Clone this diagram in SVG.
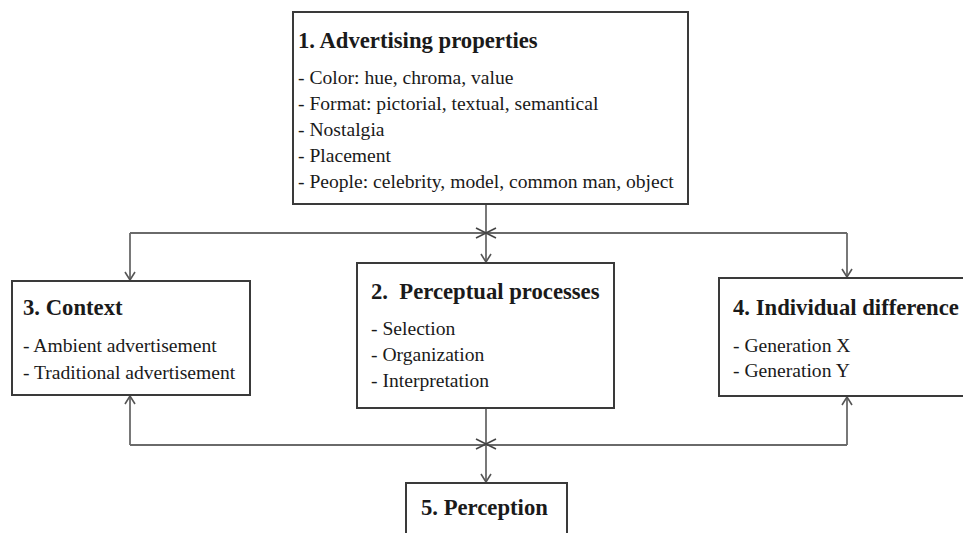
<svg xmlns="http://www.w3.org/2000/svg" width="963" height="533" viewBox="0 0 963 533">
<style>
.box{fill:#fff;stroke:#3a3a3a;stroke-width:2}
.t{font-family:'Liberation Serif','DejaVu Serif',serif;font-size:22.7px;font-weight:bold;fill:#1a1a1a}
.i{font-family:'Liberation Serif','DejaVu Serif',serif;font-size:19.6px;fill:#1a1a1a}
.c{fill:none;stroke:#6a6a6a;stroke-width:1.8}
</style>
<defs>
<marker id="arr" markerUnits="userSpaceOnUse" markerWidth="12" markerHeight="12" viewBox="-10 -6 12 12" refX="0" refY="0" orient="auto">
<path d="M-8,-5 L0,0 L-8,5" fill="none" stroke="#555" stroke-width="1.6"/>
</marker>
</defs>
<rect width="963" height="533" fill="#fff"/>
<g id="connectors">
<path class="c" d="M130,233 L847,233"/>
<path class="c" d="M130,445 L847,445"/>
<path class="c" d="M130,233 L130,280" marker-end="url(#arr)"/>
<path class="c" d="M847,233 L847,277" marker-end="url(#arr)"/>
<path class="c" d="M130,445 L130,396" marker-end="url(#arr)"/>
<path class="c" d="M847,445 L847,397" marker-end="url(#arr)"/>
<path class="c" d="M486,205 L486,262" marker-end="url(#arr)"/>
<path class="c" d="M486,408 L486,482" marker-end="url(#arr)"/>
<path d="M476,228 L496,238 M476,238 L496,228" fill="none" stroke="#444" stroke-width="1.6"/>
<path d="M476,439 L496,449 M476,449 L496,439" fill="none" stroke="#444" stroke-width="1.6"/>
</g>
<g id="node1">
<rect class="box" x="293" y="12" width="395" height="192"/>
<text class="t" x="298" y="48">1. Advertising properties</text>
<text class="i" x="298" y="84">- Color: hue, chroma, value</text>
<text class="i" x="298" y="110">- Format: pictorial, textual, semantical</text>
<text class="i" x="298" y="136">- Nostalgia</text>
<text class="i" x="298" y="162">- Placement</text>
<text class="i" x="298" y="188">- People: celebrity, model, common man, object</text>
</g>
<g id="node2">
<rect class="box" x="357" y="263" width="257" height="145"/>
<text class="t" x="371" y="299" xml:space="preserve">2.  Perceptual processes</text>
<text class="i" x="371" y="335">- Selection</text>
<text class="i" x="371" y="361">- Organization</text>
<text class="i" x="371" y="387">- Interpretation</text>
</g>
<g id="node3">
<rect class="box" x="12" y="281" width="238" height="114"/>
<text class="t" x="23" y="315">3. Context</text>
<text class="i" x="23" y="352">- Ambient advertisement</text>
<text class="i" x="23" y="379">- Traditional advertisement</text>
</g>
<g id="node4">
<rect class="box" x="719" y="278" width="260" height="118"/>
<text class="t" x="733" y="315">4. Individual difference</text>
<text class="i" x="733" y="352">- Generation X</text>
<text class="i" x="733" y="377">- Generation Y</text>
</g>
<g id="node5">
<rect class="box" x="406" y="483" width="161" height="70"/>
<text class="t" x="421" y="515">5. Perception</text>
</g>
</svg>
